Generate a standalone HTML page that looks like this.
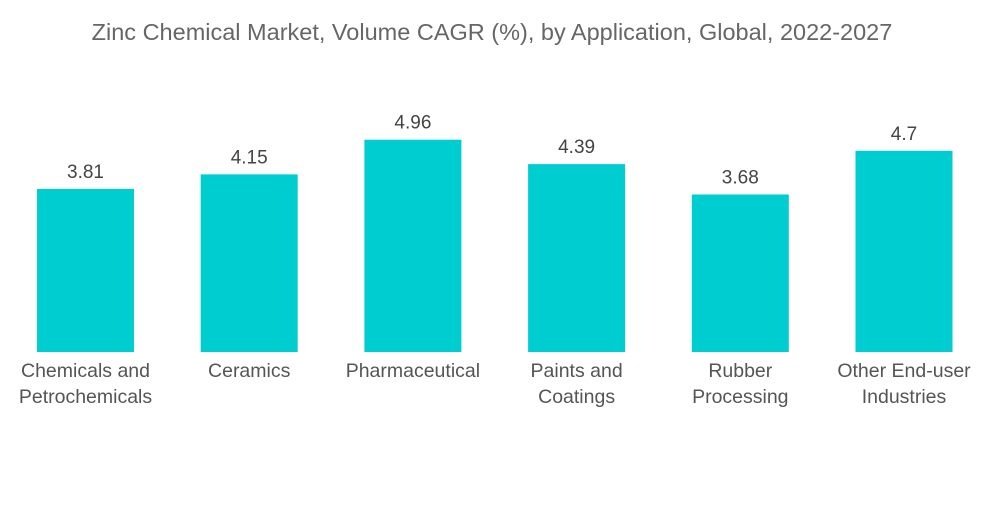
<!DOCTYPE html>
<html><head><meta charset="utf-8"><style>
body{margin:0;background:#fff;width:1000px;height:504px;overflow:hidden;font-family:"Liberation Sans",sans-serif}
</style></head><body>
<svg id="chart" width="1000" height="504" xmlns="http://www.w3.org/2000/svg">
<text x="492" y="40" text-anchor="middle" font-size="23.5" fill="#666" font-family="Liberation Sans, sans-serif">Zinc Chemical Market, Volume CAGR (%), by Application, Global, 2022-2027</text>
<g id="bars"></g>
</svg>
<script>
const categories=[["Chemicals and","Petrochemicals"],["Ceramics"],["Pharmaceutical"],["Paints and","Coatings"],["Rubber","Processing"],["Other End-user","Industries"]];
const values=[3.81,4.15,4.96,4.39,3.68,4.7];
const valueLabels=["3.81","4.15","4.96","4.39","3.68","4.7"];
const baseY=352, pxPerUnit=42.8, x0=37, step=163.7, bw=97;
const yScale=v=>baseY-v*pxPerUnit;
const xScale=i=>x0+i*step;
const ns="http://www.w3.org/2000/svg";
const g=document.getElementById('bars');
values.forEach((v,i)=>{
  const r=document.createElementNS(ns,'rect');
  
  
  r.setAttribute('x',xScale(i));r.setAttribute('y',yScale(v));
  r.setAttribute('width',bw);r.setAttribute('height',baseY-yScale(v));
  r.setAttribute('fill','#00cdd0');g.appendChild(r);
  const t=document.createElementNS(ns,'text');
  
  
  t.setAttribute('x',xScale(i)+bw/2);t.setAttribute('y',yScale(v)-11);
  t.setAttribute('text-anchor','middle');t.setAttribute('font-size','19');t.setAttribute('fill','#444');
  t.textContent=valueLabels[i];g.appendChild(t);
  categories[i].forEach((line,j)=>{
    const c=document.createElementNS(ns,'text');
    
    
    c.setAttribute('x',xScale(i)+bw/2);c.setAttribute('y',377+j*26);
    c.setAttribute('text-anchor','middle');c.setAttribute('font-size','19.5');c.setAttribute('fill','#555');
    c.textContent=line;g.appendChild(c);
  });
});
</script>
</body></html>
